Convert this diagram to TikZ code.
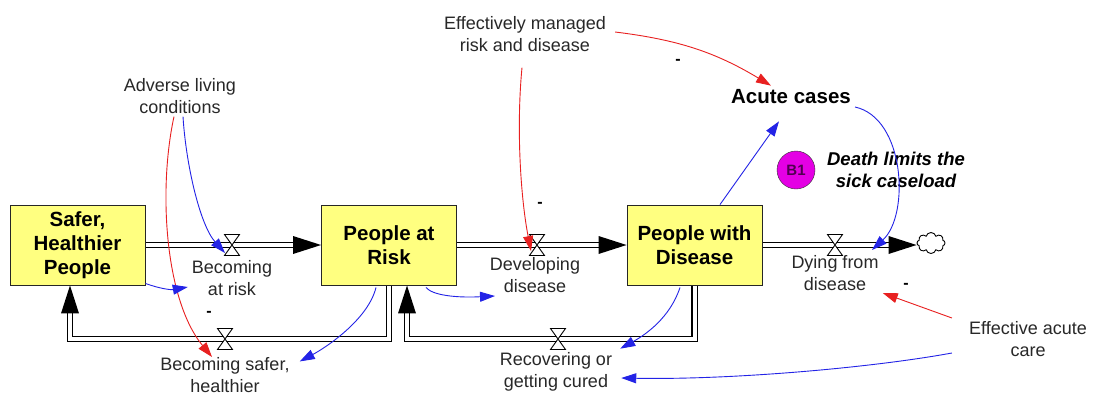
\documentclass[tikz,border=0pt]{standalone}
\usepackage{fontspec}
\setmainfont{Liberation Sans}
\usetikzlibrary{arrows.meta,shapes.symbols}
\definecolor{stockfill}{RGB}{255,255,128}
\definecolor{linkblue}{RGB}{35,35,230}
\definecolor{linkred}{RGB}{232,32,32}
\definecolor{loopmag}{RGB}{228,0,228}
\definecolor{looptext}{RGB}{80,0,80}
\definecolor{labelgray}{RGB}{40,40,40}
\pgfdeclarelayer{bg}
\pgfsetlayers{bg,main}
\tikzset{
  valve/.pic={\filldraw[fill=white,draw=black,line width=0.9pt]
      (-7.5,-10.5) -- (7.5,10.5) -- (-7.5,10.5) -- (7.5,-10.5) -- cycle;},
  pipehead/.pic={\fill[black] (0,0) -- (-28,-9) -- (-28,9) -- cycle;}
}
\begin{document}
\begin{tikzpicture}[x=1pt,y=-1pt,
  stock/.style={draw=black!85,line width=0.9pt,fill=stockfill,minimum width=135pt,
    minimum height=80pt,align=center,inner sep=0pt,
    font=\fontsize{20.5}{24}\selectfont\bfseries},
  lbl/.style={align=center,inner sep=0pt,text=labelgray,font=\fontsize{18}{21.5}\selectfont},
  minus/.style={inner sep=0pt,font=\fontsize{16}{16}\selectfont\bfseries},
  pipe/.style={draw=black,line width=1.2pt,double=white,double distance=4pt},
  info/.style={draw=linkblue,line width=0.9pt,-{Triangle[length=15pt,width=10pt]}},
  neg/.style={draw=linkred,line width=0.9pt,-{Triangle[length=15pt,width=10pt]}}
]
\useasboundingbox (0,0) rectangle (1094,394);

% stocks and sink
\node[stock] (s1) at (77.5,245) {Safer,\\Healthier\\People};
\node[stock] (s2) at (389,245) {People at\\Risk};
\node[stock] (s3) at (694.5,245) {People with\\Disease};
\node[cloud,cloud puffs=8,aspect=1.4,draw,fill=white,minimum width=28pt,
      minimum height=21pt,inner sep=0pt,line width=0.9pt] (sink) at (931,243) {};

% valve positions
\coordinate (v1) at (232,245);
\coordinate (v2) at (537,245);
\coordinate (v3) at (835,245);
\coordinate (v4) at (225,339);
\coordinate (v5) at (558,339);
\coordinate (p4) at (70,339);
\coordinate (p5) at (407,339);

% pipes, kept underneath the stocks
\begin{pgfonlayer}{bg}
\fill[white] (0,0) rectangle (1094,394);
\draw[pipe,shorten >=14pt] (s1.east) -- (s2.west);
\pic at (s2.west) {pipehead};
\draw[pipe,shorten >=14pt] (s2.east) -- (s3.west);
\pic at (s3.west) {pipehead};
\draw[pipe,shorten >=14pt] (s3.east) -- (s3.east -| sink.west);
\pic at (s3.east -| sink.west) {pipehead};
\draw[pipe,shorten >=14pt] (s2.south) |- (p4) -- (p4 |- s1.south);
\pic[rotate=90] at (p4 |- s1.south) {pipehead};
\draw[pipe,shorten >=14pt] (s3.south) |- (p5) -- (p5 |- s2.south);
\pic[rotate=90] at (p5 |- s2.south) {pipehead};
\end{pgfonlayer}

\pic at (v1) {valve};
\pic at (v2) {valve};
\pic at (v3) {valve};
\pic at (v4) {valve};
\pic at (v5) {valve};

% flow labels
\node[lbl] (l1) at (232,278) {Becoming\\at risk};
\node[lbl] (l2) at (535,275) {Developing\\disease};
\node[lbl] (l3) at (835,273) {Dying from\\disease};
\node[lbl] (l4) at (225,375) {Becoming safer,\\healthier};
\node[lbl] (l5) at (556,372) {Recovering or\\getting cured};

% auxiliaries
\node[lbl] (adv) at (180,96) {Adverse living\\conditions};
\node[lbl] (mgd) at (525,34) {Effectively managed\\risk and disease};
\node[lbl] (care) at (1028,339) {Effective acute\\care};
\node[inner sep=0pt,font=\fontsize{20.5}{24}\selectfont\bfseries] (acute) at (791,97) {Acute cases};

% loop marker
\node[circle,draw=black!80,fill=loopmag,minimum size=38pt,inner sep=0pt,
      font=\fontsize{15}{17}\selectfont\bfseries,text=looptext] (b1) at (796,170) {B1};
\node[align=center,inner sep=0pt,font=\fontsize{18.5}{22}\selectfont\bfseries\itshape]
      (b1name) at (896,170) {Death limits the\\sick caseload};

% polarity marks
\node[minus] (m1) at (209,314) {-};
\node[minus] (m2) at (540,205) {-};
\node[minus] (m3) at (678,62) {-};
\node[minus] (m4) at (906,286) {-};

% causal links
\draw[info] ([shift={(3,3)}]adv.south) .. controls (186,165) and (200,225) .. ([shift={(-7,8)}]v1);
\draw[neg] ([shift={(-6,3)}]adv.south) .. controls (158,190) and (165,300) .. ([shift={(-13,18)}]v4);
\draw[info] ([shift={(0,-2)}]s1.south east) to[bend right=15] ([shift={(-4,9)}]l1.west);
\draw[info] ([shift={(-13,2)}]s2.south) .. controls (368,320) and (325,348) .. ([shift={(10,4)}]l4.north east);
\draw[info] ([shift={(37,2)}]s2.south) .. controls (432,295) and (455,298) .. ([shift={(-40,21)}]l2.center);
\draw[info] ([shift={(-14.5,2)}]s3.south) .. controls (670,318) and (645,335) .. ([shift={(8,-4)}]l5.north east);
\draw[info] ([shift={(-17,14)}]care.west) .. controls (870,368) and (730,380) .. ([shift={(9,6)}]l5.east);
\draw[neg] ([shift={(-17,-21)}]care.west) -- ([shift={(4,20)}]l3.east);
\draw[info] ([shift={(25.5,0)}]s3.north) -- ([shift={(-12,17)}]acute.south);
\draw[info] ([shift={(4,10)}]acute.east) .. controls (905,118) and (910,215) .. ([shift={(37,5)}]v3);
\draw[neg] ([shift={(9,-2)}]mgd.east) to[bend left=12] ([shift={(-20,-4)}]acute.north);
\draw[neg] ([shift={(-3,16)}]mgd.south) .. controls (516,130) and (521,200) .. ([shift={(-6,6)}]v2);
\end{tikzpicture}
\end{document}
